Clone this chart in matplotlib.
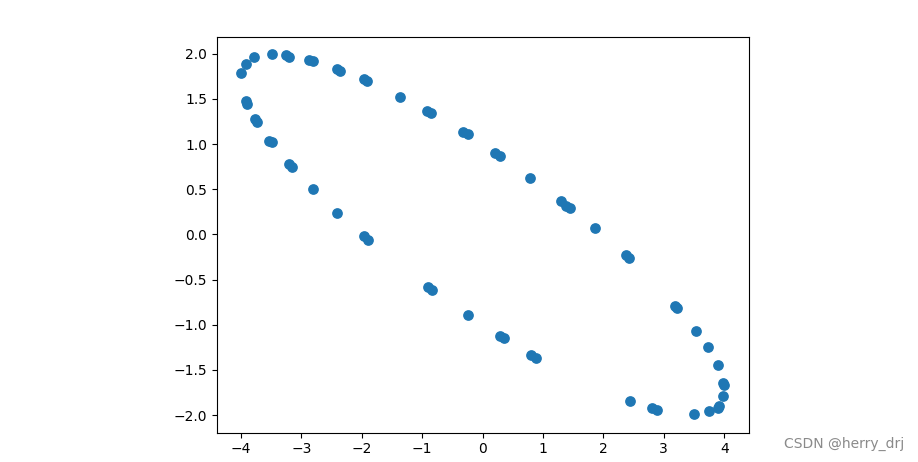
import matplotlib
matplotlib.use("Agg")
import matplotlib.pyplot as plt

x_vals = [-3.99, -3.91, -3.78, -3.49, -3.25, -3.21, -2.87, -2.81, -2.41, -2.36,
          -1.97, -1.91, -1.37, -0.92, -0.85, -0.33, -0.24, 0.21, 0.29, 0.79,
          1.30, 1.38, 1.45, 1.86, 2.37, 2.42, 3.18, 3.22, 3.54, 3.73,
          3.89, 3.98, 3.99, 3.98, 3.92, 3.90, 3.74, 3.50, 2.80, 2.88,
          2.44, -3.92, -3.90, -3.77, -3.73, -3.53, -3.49, -3.21, -3.15, -2.80,
          -2.41, -1.97, -1.90, -0.91, -0.84, -0.24, 0.29, 0.36, 0.80, 0.89]
y_vals = [1.79, 1.89, 1.96, 2.00, 1.99, 1.97, 1.93, 1.92, 1.83, 1.81,
          1.72, 1.70, 1.52, 1.37, 1.34, 1.14, 1.11, 0.90, 0.87, 0.63,
          0.37, 0.32, 0.29, 0.07, -0.23, -0.26, -0.79, -0.81, -1.07, -1.25,
          -1.45, -1.64, -1.67, -1.79, -1.90, -1.92, -1.96, -1.99, -1.92, -1.94,
          -1.85, 1.48, 1.45, 1.28, 1.24, 1.04, 1.02, 0.78, 0.75, 0.50,
          0.24, -0.02, -0.06, -0.58, -0.61, -0.89, -1.12, -1.15, -1.33, -1.37]

fig = plt.figure(figsize=(9.18, 4.62), dpi=100)
ax = fig.add_axes([216.7 / 918, (462 - 432.7) / 462, (749 - 216.7) / 918, (432.7 - 36.7) / 462])
ax.scatter(x_vals, y_vals, s=45, color="#1f77b4")
ax.set_xlim(-4.4, 4.41)
ax.set_ylim(-2.196, 2.19)
ax.tick_params(labelsize=10)
fig.text(0.985, 0.04, "CSDN @herry_drj", ha="right", va="center", fontsize=10, color="#8a8a8a")
fig.savefig("out.png", dpi=100)
